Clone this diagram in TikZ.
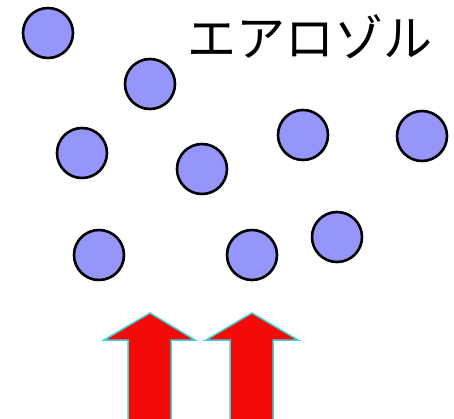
\documentclass[tikz,border=0pt]{standalone}
\usepackage{fontspec}
\newfontfamily\jpfont{Noto Sans CJK JP}
\definecolor{particle}{RGB}{150,150,250}
\definecolor{arrowred}{RGB}{245,10,10}
\definecolor{arrowedge}{RGB}{60,210,215}
\begin{document}
\begin{tikzpicture}[x=1pt,y=-1pt,
  particle/.style={circle,draw=black,line width=2.6pt,fill=particle,minimum size=50pt,inner sep=0pt},
  uparrow/.style={fill=arrowred,draw=arrowedge,line width=1.5pt,line join=miter}]
\useasboundingbox (0,0) rectangle (454,418);
\clip (0,0) rectangle (454,418);
\node[particle] (p1) at (48,33) {};
\node[particle] (p2) at (150,84) {};
\node[particle] (p3) at (82,153) {};
\node[particle] (p4) at (202,169) {};
\node[particle] (p5) at (303,135) {};
\node[particle] (p6) at (422,136) {};
\node[particle] (p7) at (99,255) {};
\node[particle] (p8) at (252,255) {};
\node[particle] (p9) at (337,237) {};
\node[font=\jpfont\fontsize{49}{52}\selectfont,inner sep=0pt] (t) at (310,37) {エアロゾル};
\draw[uparrow] (128,425) -- (128,340) -- (104,340) -- (150,313) -- (195,340) -- (171,340) -- (171,425) -- cycle;
\draw[uparrow] (230,425) -- (230,340) -- (206,340) -- (252,313) -- (298,340) -- (273,340) -- (273,425) -- cycle;
\end{tikzpicture}
\end{document}
